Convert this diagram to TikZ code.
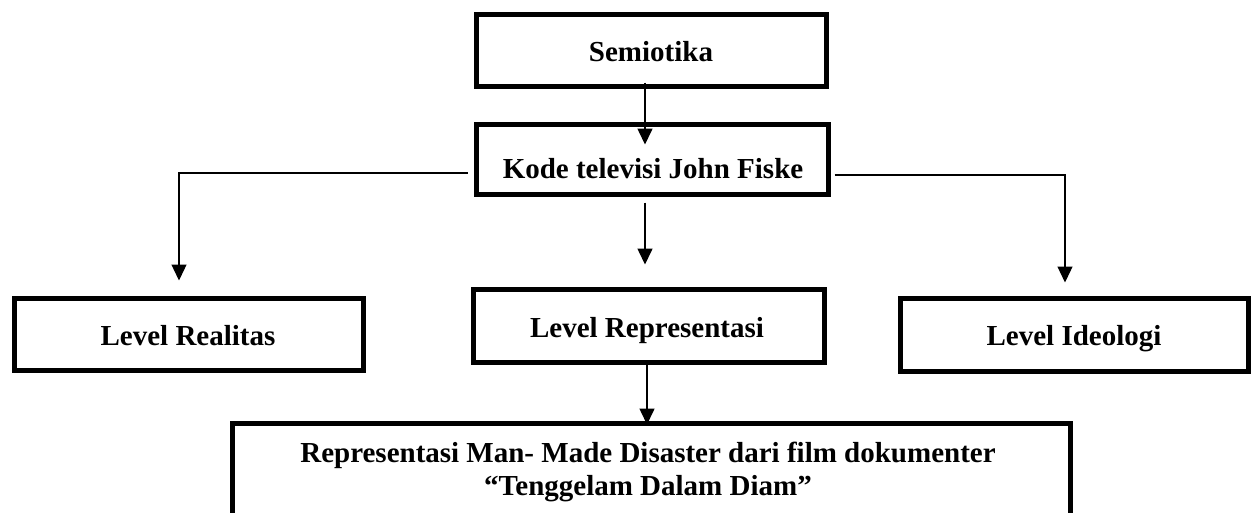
\documentclass[tikz,border=0pt]{standalone}
\usepackage{fontspec}
\setmainfont{Liberation Serif}
\usetikzlibrary{arrows.meta,calc}
\tikzset{
  box/.style={draw=black, line width=5pt, fill=white, inner sep=0pt},
  txt/.style={font=\bfseries\fontsize{29}{33}\selectfont, anchor=base, inner sep=0pt},
  arr/.style={draw=black, line width=1.6pt, -{Triangle[width=15pt,length=16pt]}},
}
\begin{document}
\begin{tikzpicture}[x=1pt,y=-1pt]
\useasboundingbox (0,0) rectangle (1252,512);
% boxes
\node[box, minimum width=350pt, minimum height=72pt] (sem) at (651,50) {};
\node[box, minimum width=352pt, minimum height=70pt] (kode) at (652,159) {};
\node[box, minimum width=349pt, minimum height=72pt] (real) at (188.5,334) {};
\node[box, minimum width=351pt, minimum height=73pt] (rep) at (648.5,325.5) {};
\node[box, minimum width=348pt, minimum height=73pt] (ideo) at (1074,334.5) {};
\node[box, minimum width=838pt, minimum height=107pt] (film) at (651,476.5) {};
% texts
\node[txt] (semt) at (651,61) {Semiotika};
\node[txt] (kodet) at (653,178) {Kode televisi John Fiske};
\node[txt] (realt) at (188,345) {Level Realitas};
\node[txt] (rept) at (647,337) {Level Representasi};
\node[txt] (ideot) at (1074,345) {Level Ideologi};
\node[txt] (filmt1) at (648,462) {Representasi Man- Made Disaster dari film dokumenter};
\node[txt] (filmt2) at (648,495) {“Tenggelam Dalam Diam”};
% connectors
\draw[arr] ($(sem.south)+(-6,-6)$) -- ($(kode.north)+(-7,23)$);
\draw[arr, line width=1.3pt] ($(kode.west)+(-6,14)$) -| ($(real.north)+(-9.5,-15)$);
\draw[arr, line width=1.3pt] ($(kode.east)+(4,16)$) -| ($(ideo.north)+(-9,-13)$);
\draw[arr] ($(kode.south)+(-7,6)$) -- ($(rep.north)+(-3.5,-22)$);
\draw[arr] ($(rep.south)+(-1.5,-2)$) -- ($(film.north)+(-4,4)$);
\end{tikzpicture}
\end{document}
